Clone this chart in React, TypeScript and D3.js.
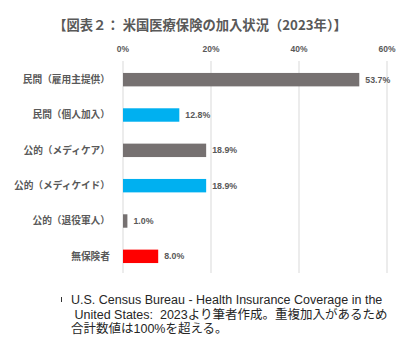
import React from "react";
import * as d3 from "d3";

const categories = ["民間（雇用主提供）", "民間（個人加入）", "公的（メディケア）", "公的（メディケイド）", "公的（退役軍人）", "無保険者"];
const values = [53.7, 12.8, 18.9, 18.9, 1.0, 8.0];
const colors = ["#767171", "#00B0F0", "#767171", "#00B0F0", "#767171", "#FF0000"];
const ticks = [0, 20, 40, 60];
const title = "【図表２： 米国医療保険の加入状況（2023年）】";
const noteLines = [
  "U.S. Census Bureau - Health Insurance Coverage in the",
  " United States:  2023より筆者作成。重複加入があるため",
  "合計数値は100%を超える。",
];

const W = 409;
const H = 357;
const FONT = "'Liberation Sans', 'Noto Sans CJK JP', sans-serif";
const JFONT = "'Noto Sans CJK JP', 'Liberation Sans', sans-serif";

export default function App() {
  const x = d3.scaleLinear().domain([0, 60]).range([123, 387]);
  const y = d3.scaleBand<string>().domain(categories).range([62, 274]).paddingInner(0.62).paddingOuter(0.31);
  const bw = y.bandwidth();
  return (
    <svg width={W} height={H} style={{ position: "absolute", left: 0, top: 0, background: "#fff" }}>
      <rect width={W} height={H} fill="#fff" />
      <text x={200} y={30} textAnchor="middle" fontFamily={JFONT} fontWeight="bold" fontSize={13.3} fill="#595959" style={{ whiteSpace: "pre" }}>
        {title}
      </text>
      {ticks.map((t) => (
        <g key={t}>
          <line x1={x(t)} x2={x(t)} y1={61} y2={273} stroke="#d9d9d9" strokeWidth={1} />
          <text x={x(t)} y={52} textAnchor="middle" fontFamily={FONT} fontWeight="bold" fontSize={8.5} fill="#595959">
            {t}%
          </text>
        </g>
      ))}
      {categories.map((c, i) => {
        const yy = y(c)!;
        return (
          <g key={c}>
            <rect x={x(0)} y={yy} width={x(values[i]) - x(0)} height={bw} fill={colors[i]} />
            <text x={110} y={yy + bw / 2} dy="0.35em" textAnchor="end" fontFamily={JFONT} fontWeight="bold" fontSize={9.7} fill="#595959">
              {c}
            </text>
            <text x={x(values[i]) + 6} y={yy + bw / 2} dy="0.35em" fontFamily={FONT} fontWeight="bold" fontSize={8.8} fill="#595959">
              {values[i].toFixed(1)}%
            </text>
          </g>
        );
      })}
      <line x1={61.5} x2={61.5} y1={297} y2={302} stroke="#333" strokeWidth={1} />
      {noteLines.map((l, i) => (
        <text key={i} x={71} y={304 + i * 14.5} fontFamily={FONT} fontSize={12.5} fill="#262626" style={{ whiteSpace: "pre" }}>
          {l}
        </text>
      ))}
    </svg>
  );
}
